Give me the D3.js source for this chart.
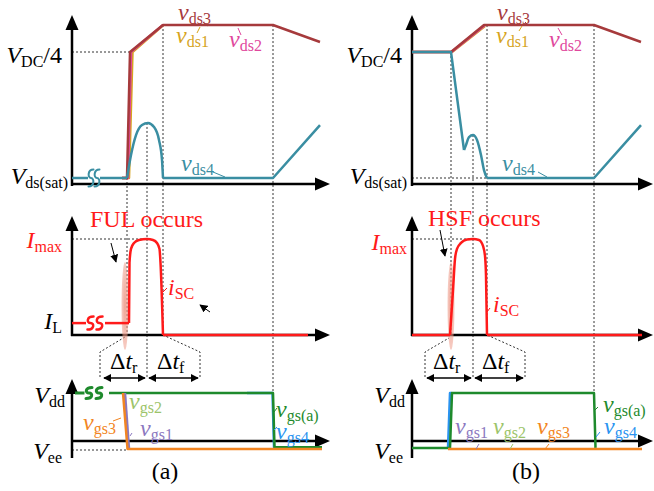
<!DOCTYPE html>
<html><head><meta charset="utf-8">
<script src="https://cdn.jsdelivr.net/npm/d3@7"></script>
<style>html,body{margin:0;background:#fff}</style>
</head><body><svg id="c" width="654" height="491"></svg>
<script>
// ---- waveform data: [time (a.u.), normalized level] ----
// drain-source voltages (0 = Vds(sat), 1 = VDC/4)
const vds3A = [[2.0,0],[2.2,0],[2.32,1],[3.64,1.214],[8.04,1.214],[9.92,1.079]];
const vds2A = [[2.0,0],[2.24,0],[2.36,1],[3.64,1.214]];
const vds1A = [[2.0,0],[2.28,0],[2.42,1],[3.64,1.212]];
const vds4AHead = [[0,0],[0.64,0]];
const vds4AMid = [[1.12,0],[2.2,0]];
const vds4AHump = [[2.2,0],[2.36,0.183],[2.56,0.341],[2.8,0.421],[3.04,0.437],[3.28,0.405],[3.48,0.302],[3.6,0.143],[3.64,0]];
const vds4ATail = [[3.64,0],[8.04,0],[9.92,0.42]];

const vds3B = [[0,1],[1.56,1],[2.88,1.214],[7.28,1.214],[9.16,1.079]];
const vds2B = [[0,1],[1.58,1],[2.9,1.21]];
const vds1B = [[0,1],[1.6,1],[2.92,1.206]];
const vds4BHead = [[0,1],[1.56,1],[2.08,0.222]];
const vds4BHump = [[2.08,0.222],[2.16,0.262],[2.28,0.325],[2.44,0.341],[2.6,0.302],[2.76,0.183],[2.88,0.063],[3.0,0]];
const vds4BTail = [[3.0,0],[7.28,0],[9.16,0.42]];

// short-circuit current (0 = zero, 1 = Imax)
const IL = 0.124;
const iscAHead = [[0,IL],[0.56,IL]];
const iscAMid = [[1.32,IL],[2.28,IL]];
const iscAPulse = [[2.28,IL],[2.3,0.753],[2.36,0.897],[2.48,0.959],[2.68,0.99],[3.0,1.0],[3.24,0.99],[3.4,0.959],[3.5,0.897],[3.54,0.753],[3.64,0]];
const iscATail = [[3.64,0],[9.44,0]];

const iscBHead = [[0,0],[1.52,0]];
const iscBPulse = [[1.52,0],[1.64,0.464],[1.72,0.794],[1.8,0.897],[1.96,0.959],[2.2,0.995],[2.44,1.0],[2.68,0.99],[2.84,0.928],[2.92,0.825],[2.96,0.619],[3.0,0]];
const iscBTail = [[3.0,0],[9.2,0]];

// gate-source voltages (0 = Vee, 1 = Vdd)
const vgsAHead = [[0.12,1],[0.5,1]];
const vgsAMain = [[1.48,1],[8.04,1],[8.1,0.03],[10.0,0.03]];
const vgs4A = [[7.0,1],[8.02,1],[8.08,0.03],[10.0,0.03]];
const vgs3A = [[2.04,1],[2.22,0],[10.0,0]];
const vgs2A = [[2.08,1],[2.25,0]];
const vgs1A = [[2.12,1],[2.28,0]];

const vgsBMain = [[0,0.02],[1.52,0.02],[1.6,1],[7.28,1],[7.34,0.02]];
const vgs4B = [[1.44,0.02],[1.52,1],[1.6,1]];
const vgs3B = [[1.44,0],[9.2,0]];

// break marks (time positions)
const breaksDsA = [0.76, 1.0];
const breaksIA = [0.74, 1.1];
const breaksGsA = [0.68, 1.08];

// key instants
const marksA = {on:2.2, peak:3.0, off:3.64, end:8.04};
const marksB = {on:1.56, peak:2.44, off:3.0, end:7.28};

// ---- scales ----
const xA = d3.scaleLinear().domain([0,10]).range([72,322]);
const xB = d3.scaleLinear().domain([0,10]).range([412,662]);
const yDs = d3.scaleLinear().domain([0,1]).range([178,52]);
const yI = d3.scaleLinear().domain([0,1]).range([335,239]);
const yGs = d3.scaleLinear().domain([0,1]).range([449,393]);

const C = {
  vds3:'#a63a3c', vds1:'#d6a41e', vds2:'#e0489d', vds4:'#3a8ea2',
  isc:'#ff1a1a', vgsa:'#1e8a2c', vgs3:'#f28522', vgs2:'#9cc46a',
  vgs1:'#8b78c0', vgs4:'#2a93f0', pink:'#ee9a88'
};
const FONT = "'Liberation Serif','Times New Roman',serif";

const svg = d3.select('#c');
const g = svg.append('g');

const defs = svg.append('defs');
const rg = defs.append('radialGradient').attr('id','glow');
rg.append('stop').attr('offset','0%').attr('stop-color',C.pink).attr('stop-opacity',0.9);
rg.append('stop').attr('offset','100%').attr('stop-color',C.pink).attr('stop-opacity',0.5);
function headMarker(id, orient){
  defs.append('marker').attr('id',id).attr('viewBox','0 0 10 10').attr('refX',9).attr('refY',5)
    .attr('markerWidth',8).attr('markerHeight',8).attr('markerUnits','userSpaceOnUse').attr('orient',orient)
    .append('path').attr('d','M0,0L10,5L0,10z').attr('fill','#000');
}
headMarker('ah','auto');
headMarker('ahs','auto-start-reverse');

function trace(xs, ys, pts, color, w, curve){
  g.append('path')
    .attr('d', d3.line().x(d=>xs(d[0])).y(d=>ys(d[1])).curve(curve||d3.curveLinear)(pts))
    .attr('fill','none').attr('stroke',color).attr('stroke-width',w||2.5)
    .attr('stroke-linejoin','round').attr('stroke-linecap','butt');
}
function seg(x1,y1,x2,y2,stroke,w,dash){
  const l = g.append('line').attr('x1',x1).attr('y1',y1).attr('x2',x2).attr('y2',y2)
    .attr('stroke',stroke).attr('stroke-width',w);
  if(dash) l.attr('stroke-dasharray',dash);
  return l;
}
function dotted(x1,y1,x2,y2){ return seg(x1,y1,x2,y2,'#333',1,'2,2'); }
function breakMark(cx, cy, color, w, h, sw){
  const p = d3.path();
  p.moveTo(cx-w/2, cy+h/2);
  p.bezierCurveTo(cx+w/2+1, cy+h/2, cx+w/2+1, cy, cx, cy);
  p.bezierCurveTo(cx-w/2-1, cy, cx-w/2-1, cy-h/2, cx+w/2, cy-h/2);
  g.append('path').attr('d',p.toString()).attr('fill','none').attr('stroke',color)
    .attr('stroke-width',sw).attr('stroke-linecap','round');
}
function axisArrow(x1,y1,x2,y2){
  const ang = Math.atan2(y2-y1,x2-x1), L=15, hw=6.5;
  const bx = x2-L*Math.cos(ang), by = y2-L*Math.sin(ang);
  seg(x1,y1,bx,by,'#000',2.5);
  const nx = -Math.sin(ang), ny = Math.cos(ang);
  g.append('path').attr('d',`M${x2},${y2}L${bx+nx*hw},${by+ny*hw}L${bx-nx*hw},${by-ny*hw}Z`).attr('fill','#000');
}
// label made of runs: [text, 'i'|'n'|'s'] (italic main, normal main, subscript)
function label(x, y, runs, color, anchor){
  const t = g.append('text').attr('x',x).attr('y',y).attr('fill',color||'#000')
    .attr('font-family',FONT).attr('font-size',24).attr('text-anchor',anchor||'start');
  let sub=false;
  runs.forEach(([s,k])=>{
    const ts = t.append('tspan').text(s);
    if(k==='i') ts.attr('font-style','italic');
    if(k==='s'){ ts.attr('font-size',16); if(!sub){ts.attr('dy',4); sub=true;} }
    else if(sub){ ts.attr('dy',-4); sub=false; }
  });
  return t;
}
function tick(x1,y1,x2,y2,color){ seg(x1,y1,x2,y2,color,1); }

// ================= panel (a) =================
// guide lines
dotted(xA(0), yDs(1), xA(2.32), yDs(1));
dotted(xA(marksA.on), yDs(0), xA(marksA.on), yI(0));
dotted(xA(marksA.peak), yDs(0.437), xA(marksA.peak), 378);
dotted(xA(marksA.off), yDs(1.214), xA(marksA.off), yI(0));
dotted(xA(marksA.end), yDs(1.214), xA(marksA.end), yGs(1));
dotted(xA(0), yI(1), xA(marksA.peak), yI(1));
dotted(xA(0), yGs(0)+1, xA(2.24), yGs(0)+1);
// transition-interval brackets
g.append('path').attr('d',`M100,377L100,352L125,337`).attr('fill','none').attr('stroke','#333').attr('stroke-width',1).attr('stroke-dasharray','2,2');
g.append('path').attr('d',`M200,377L200,352L${xA(marksA.off)},${yI(0)}`).attr('fill','none').attr('stroke','#333').attr('stroke-width',1).attr('stroke-dasharray','2,2');

// axes
axisArrow(xA(0), 186, xA(0), 15);
axisArrow(xA(0)-1, 184, 330, 184);
axisArrow(xA(0), yI(0)+1, xA(0), 216);
axisArrow(xA(0)-1, yI(0), 330, yI(0));
axisArrow(xA(0), 458, xA(0), 379);
axisArrow(xA(0)-1, 441, 330, 441);

// vds traces
trace(xA, yDs, vds1A, C.vds1);
trace(xA, yDs, vds2A, C.vds2);
trace(xA, yDs, vds3A, C.vds3);
trace(xA, yDs, vds4AHead, C.vds4);
trace(xA, yDs, vds4AMid, C.vds4);
trace(xA, yDs, vds4AHump, C.vds4, 2.5, d3.curveMonotoneX);
trace(xA, yDs, vds4ATail, C.vds4);
breaksDsA.forEach(t=>breakMark(xA(t), yDs(0), C.vds4, 5, 17, 2));

// current
g.append('ellipse').attr('cx',xA(2.12)).attr('cy',306).attr('rx',3.5).attr('ry',44).attr('fill','url(#glow)');
trace(xA, yI, iscAHead, C.isc);
trace(xA, yI, iscAMid, C.isc);
trace(xA, yI, iscAPulse, C.isc, 2.5, d3.curveMonotoneX);
trace(xA, yI, iscATail, C.isc);
breaksIA.forEach(t=>breakMark(xA(t), yI(IL), C.isc, 6, 13, 2.5));

// gate voltages
trace(xA, yGs, vgs4A, C.vgs4);
trace(xA, yGs, vgsAHead, C.vgsa, 3);
trace(xA, yGs, vgsAMain, C.vgsa);
breaksGsA.forEach(t=>breakMark(xA(t), yGs(1), C.vgsa, 6, 11, 3));
trace(xA, yGs, vgs2A, C.vgs2);
trace(xA, yGs, vgs1A, C.vgs1);
trace(xA, yGs, vgs3A, C.vgs3);

// Δt arrows
seg(104,378,145,378,'#000',1.5).attr('marker-start','url(#ahs)').attr('marker-end','url(#ah)');
seg(149,378,198,378,'#000',1.5).attr('marker-start','url(#ahs)').attr('marker-end','url(#ah)');
// pointer arrows
seg(111,243,116,262,'#000',1).attr('marker-end','url(#ah)');
seg(210,312,200,305,'#000',1).attr('marker-end','url(#ah)');

// labels (a)
label(62, 63, [['V','i'],['DC','s'],['/4','n']], '#000', 'end');
label(68, 184, [['V','i'],['ds(sat)','s']], '#000', 'end');
label(178, 20, [['v','i'],['ds3','s']], C.vds3); tick(203,22,208,26,C.vds3);
label(176, 43, [['v','i'],['ds1','s']], C.vds1); tick(197,33,200,27,C.vds1);
label(229, 47, [['v','i'],['ds2','s']], C.vds2); tick(238,28,241,35,C.vds2);
label(181, 171, [['v','i'],['ds4','s']], C.vds4); tick(213,172,225,177,C.vds4);

label(90, 227, [['FUL occurs','n']], C.isc);
label(62, 248, [['I','i'],['max','s']], C.isc, 'end');
label(62, 329, [['I','i'],['L','s']], '#000', 'end');
label(168, 295, [['i','i'],['SC','s']], C.isc); tick(163,292,167,288,C.isc);

label(110, 369, [['Δ','n'],['t','i'],['r','s']]);
label(157, 369, [['Δ','n'],['t','i'],['f','s']]);
label(65, 403, [['V','i'],['dd','s']], '#000', 'end');
label(62, 459, [['V','i'],['ee','s']], '#000', 'end');
label(129, 409, [['v','i'],['gs2','s']], C.vgs2);
label(83, 430, [['v','i'],['gs3','s']], C.vgs3); tick(113,421,121,418,C.vgs3);
label(140, 436, [['v','i'],['gs1','s']], C.vgs1); tick(130,436,132,433,C.vgs1);
label(276, 417, [['v','i'],['gs(a)','s']], C.vgsa); tick(274,412,277,408,C.vgsa);
label(276, 439, [['v','i'],['gs4','s']], C.vgs4); tick(274,430,277,427,C.vgs4);
label(165, 479, [['(a)','n']], '#000', 'middle');

// ================= panel (b) =================
dotted(xB(0), yDs(0), xB(marksB.off), yDs(0));
dotted(xB(marksB.on), yDs(1), xB(marksB.on), yI(0));
dotted(xB(marksB.peak), yDs(0.341), xB(marksB.peak), 378);
dotted(xB(marksB.off), yDs(1.214), xB(marksB.off), yI(0));
dotted(xB(marksB.end), yDs(1.214), xB(marksB.end), yGs(1));
dotted(xB(0), yI(1), xB(marksB.peak), yI(1));
g.append('path').attr('d',`M425,377L425,352L${xB(1.48)},338`).attr('fill','none').attr('stroke','#333').attr('stroke-width',1).attr('stroke-dasharray','2,2');
g.append('path').attr('d',`M525,377L525,352L${xB(marksB.off)},${yI(0)}`).attr('fill','none').attr('stroke','#333').attr('stroke-width',1).attr('stroke-dasharray','2,2');

axisArrow(xB(0), 186, xB(0), 15);
axisArrow(xB(0)-1, 184, 653, 184);
axisArrow(xB(0), yI(0)+1, xB(0), 216);
axisArrow(xB(0)-1, yI(0), 653, yI(0));
axisArrow(xB(0), 458, xB(0), 379);
axisArrow(xB(0)-1, 441, 653, 441);

trace(xB, yDs, vds1B, C.vds1);
trace(xB, yDs, vds2B, C.vds2);
trace(xB, yDs, vds3B, C.vds3);
trace(xB, yDs, vds4BHead, C.vds4);
trace(xB, yDs, vds4BHump, C.vds4, 2.5, d3.curveMonotoneX);
trace(xB, yDs, vds4BTail, C.vds4);

g.append('ellipse').attr('cx',xB(1.56)).attr('cy',306).attr('rx',3.5).attr('ry',44).attr('fill','url(#glow)');
trace(xB, yI, iscBHead, C.isc);
trace(xB, yI, iscBPulse, C.isc, 2.5, d3.curveMonotoneX);
trace(xB, yI, iscBTail, C.isc);

trace(xB, yGs, vgs4B, C.vgs4);
trace(xB, yGs, vgsBMain, C.vgsa);
trace(xB, yGs, vgs3B, C.vgs3);

seg(427,378,471,378,'#000',1.5).attr('marker-start','url(#ahs)').attr('marker-end','url(#ah)');
seg(475,378,523,378,'#000',1.5).attr('marker-start','url(#ahs)').attr('marker-end','url(#ah)');
seg(440,230,445,256,'#000',1).attr('marker-end','url(#ah)');

label(402, 63, [['V','i'],['DC','s'],['/4','n']], '#000', 'end');
label(407, 184, [['V','i'],['ds(sat)','s']], '#000', 'end');
label(497, 20, [['v','i'],['ds3','s']], C.vds3); tick(525,22,529,26,C.vds3);
label(496, 43, [['v','i'],['ds1','s']], C.vds1); tick(519,31,522,26,C.vds1);
label(549, 47, [['v','i'],['ds2','s']], C.vds2); tick(558,28,562,35,C.vds2);
label(502, 171, [['v','i'],['ds4','s']], C.vds4); tick(538,172,547,177,C.vds4);

label(428, 226, [['HSF occurs','n']], C.isc);
label(407, 250, [['I','i'],['max','s']], C.isc, 'end');
label(493, 312, [['i','i'],['SC','s']], C.isc); tick(487,312,490,308,C.isc);

label(433, 369, [['Δ','n'],['t','i'],['r','s']]);
label(482, 369, [['Δ','n'],['t','i'],['f','s']]);
label(405, 403, [['V','i'],['dd','s']], '#000', 'end');
label(403, 459, [['V','i'],['ee','s']], '#000', 'end');
label(455, 434, [['v','i'],['gs1','s']], C.vgs1); tick(476,449,479,444,C.vgs1);
label(493, 434, [['v','i'],['gs2','s']], C.vgs2); tick(510,449,513,444,C.vgs2);
label(537, 434, [['v','i'],['gs3','s']], C.vgs3); tick(545,449,549,444,C.vgs3);
label(603, 412, [['v','i'],['gs(a)','s']], C.vgsa); tick(594,411,598,407,C.vgsa);
label(604, 434, [['v','i'],['gs4','s']], C.vgs4); tick(596,437,600,432,C.vgs4);
label(526, 479, [['(b)','n']], '#000', 'middle');
</script></body></html>
